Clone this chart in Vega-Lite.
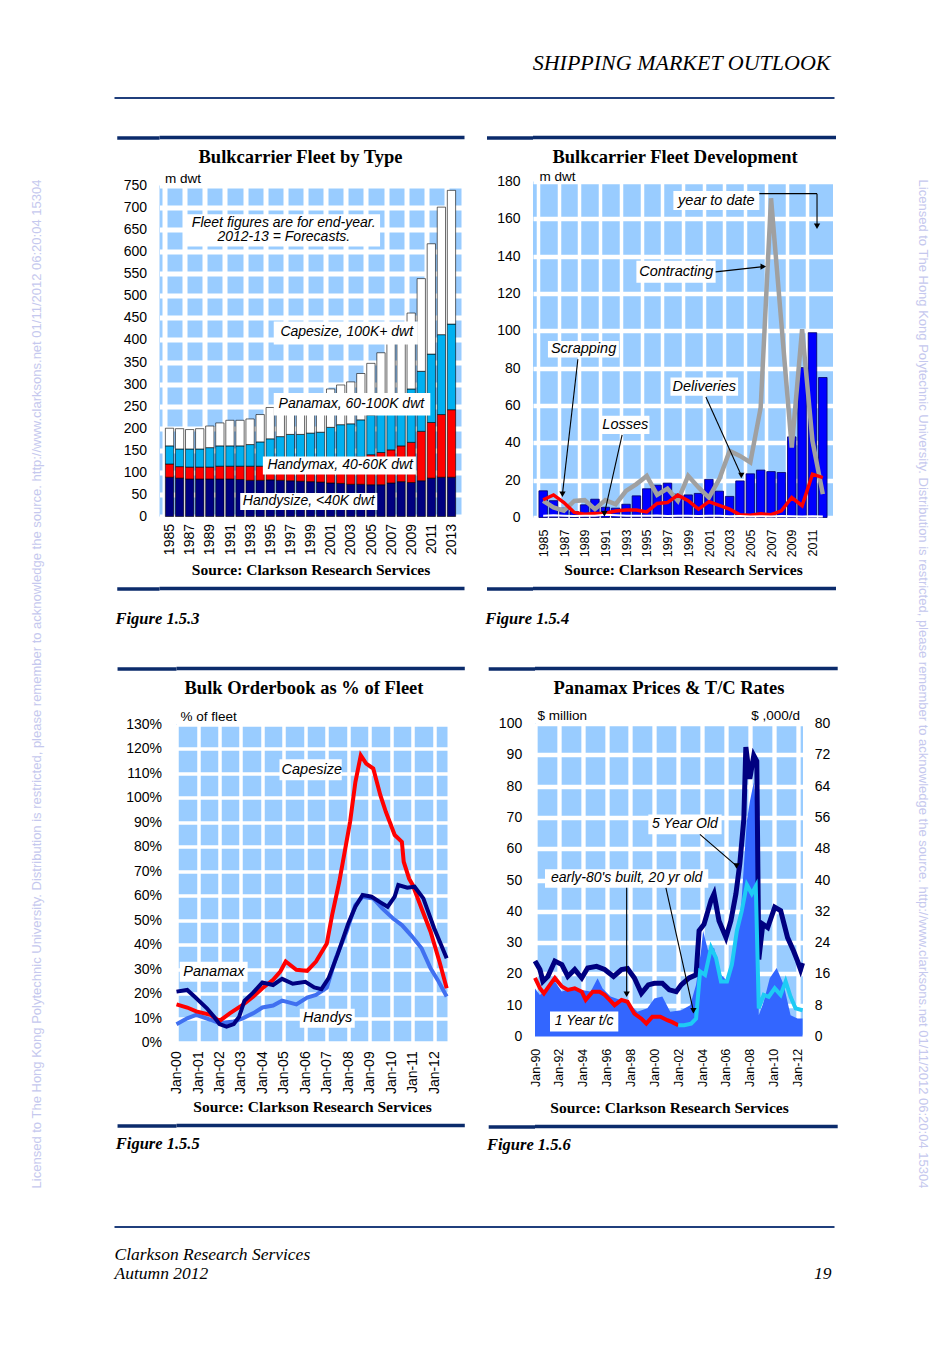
{
"$schema": "https://vega.github.io/schema/vega-lite/v6.json",
"background": "white",
"padding": {"left": 30, "top": 52, "right": 5, "bottom": 5},
"config": {
  "font": "Liberation Sans",
  "view": {"stroke": null},
  "axis": {"domain": false, "ticks": false, "labelColor": "black", "titleColor": "black", "labelFont": "Liberation Sans", "labelFontSize": 14, "gridColor": "white", "gridOpacity": 1},
  "title": {"color": "black"}
},
"datasets": {
  "watermark": [{"text": "Licensed to The Hong Kong Polytechnic University.  Distribution is restricted, please remember to acknowledge the source.  http://www.clarksons.net  01/11/2012 06:20:04 15304"}],
  "footer": [{"text": "Clarkson Research Services", "side": "left", "line": 1}, {"text": "Autumn 2012", "side": "left", "line": 2}, {"text": "19", "side": "right", "line": 2}],
  "classes": [{"type": "Handysize", "minDwt": 10}, {"type": "Handymax", "minDwt": 40}, {"type": "Panamax", "minDwt": 60}, {"type": "Capesize", "minDwt": 100}],
  "fleet": [
    {"year":1985,"Handysize":89,"Handymax":30,"Panamax":41,"Capesize":40},
    {"year":1986,"Handysize":87,"Handymax":26,"Panamax":40,"Capesize":46},
    {"year":1987,"Handysize":85,"Handymax":27,"Panamax":41,"Capesize":44},
    {"year":1988,"Handysize":85,"Handymax":27,"Panamax":41,"Capesize":46},
    {"year":1989,"Handysize":85,"Handymax":27,"Panamax":44,"Capesize":49},
    {"year":1990,"Handysize":85,"Handymax":29,"Panamax":46,"Capesize":52},
    {"year":1991,"Handysize":85,"Handymax":29,"Panamax":46,"Capesize":58},
    {"year":1992,"Handysize":84,"Handymax":30,"Panamax":46,"Capesize":58},
    {"year":1993,"Handysize":82,"Handymax":32,"Panamax":49,"Capesize":58},
    {"year":1994,"Handysize":82,"Handymax":32,"Panamax":55,"Capesize":62},
    {"year":1995,"Handysize":83,"Handymax":33,"Panamax":60,"Capesize":71},
    {"year":1996,"Handysize":82,"Handymax":36,"Panamax":63,"Capesize":71},
    {"year":1997,"Handysize":81,"Handymax":39,"Panamax":66,"Capesize":69},
    {"year":1998,"Handysize":80,"Handymax":42,"Panamax":64,"Capesize":74},
    {"year":1999,"Handysize":79,"Handymax":45,"Panamax":65,"Capesize":77},
    {"year":2000,"Handysize":78,"Handymax":47,"Panamax":66,"Capesize":84},
    {"year":2001,"Handysize":76,"Handymax":51,"Panamax":75,"Capesize":87},
    {"year":2002,"Handysize":75,"Handymax":54,"Panamax":79,"Capesize":90},
    {"year":2003,"Handysize":73,"Handymax":58,"Panamax":79,"Capesize":95},
    {"year":2004,"Handysize":73,"Handymax":62,"Panamax":84,"Capesize":105},
    {"year":2005,"Handysize":72,"Handymax":68,"Panamax":90,"Capesize":117},
    {"year":2006,"Handysize":72,"Handymax":73,"Panamax":97,"Capesize":129},
    {"year":2007,"Handysize":76,"Handymax":75,"Panamax":104,"Capesize":139},
    {"year":2008,"Handysize":79,"Handymax":81,"Panamax":110,"Capesize":148},
    {"year":2009,"Handysize":77,"Handymax":91,"Panamax":121,"Capesize":172},
    {"year":2010,"Handysize":81,"Handymax":112,"Panamax":136,"Capesize":210},
    {"year":2011,"Handysize":87,"Handymax":126,"Panamax":155,"Capesize":250},
    {"year":2012,"Handysize":89,"Handymax":142,"Panamax":181,"Capesize":289},
    {"year":2013,"Handysize":89,"Handymax":153,"Panamax":194,"Capesize":303}
  ],
  "fleetBoxes": [
    {"x1":1986.58,"x2":2005.91,"y1":612,"y2":685},
    {"x1":1995.35,"x2":2009.66,"y1":390,"y2":442},
    {"x1":1995.35,"x2":2010.9,"y1":229,"y2":280},
    {"x1":1994.27,"x2":2009.47,"y1":95,"y2":136},
    {"x1":1992.02,"x2":2005.63,"y1":15,"y2":53}
  ],
  "fleetNotes": [
    {"label":"Fleet figures are for end-year.","x":1996.35,"y":665},
    {"label":"2012-13 = Forecasts.","x":1996.35,"y":633},
    {"label":"Capesize, 100K+ dwt","x":2002.6,"y":419},
    {"label":"Panamax, 60-100K dwt","x":2003.06,"y":256},
    {"label":"Handymax, 40-60K dwt","x":2001.95,"y":116},
    {"label":"Handysize, <40K dwt","x":1998.83,"y":35}
  ],
  "fleetDev": [
    {"year":1985,"deliveries":14.3,"contracting":8.9,"scrapping":9.5,"losses":1.0},
    {"year":1986,"deliveries":9.0,"contracting":5.4,"scrapping":12.1,"losses":1.2},
    {"year":1987,"deliveries":5.0,"contracting":3.6,"scrapping":8.0,"losses":1.0},
    {"year":1988,"deliveries":3.2,"contracting":8.9,"scrapping":2.7,"losses":0.8},
    {"year":1989,"deliveries":6.8,"contracting":9.3,"scrapping":1.8,"losses":0.9},
    {"year":1990,"deliveries":9.8,"contracting":4.5,"scrapping":2.1,"losses":1.0},
    {"year":1991,"deliveries":5.5,"contracting":9.3,"scrapping":2.3,"losses":1.5},
    {"year":1992,"deliveries":5.0,"contracting":7.1,"scrapping":3.5,"losses":1.2},
    {"year":1993,"deliveries":7.1,"contracting":14.3,"scrapping":4.0,"losses":1.0},
    {"year":1994,"deliveries":11.6,"contracting":17.9,"scrapping":4.0,"losses":1.0},
    {"year":1995,"deliveries":15.4,"contracting":22.3,"scrapping":3.0,"losses":0.9},
    {"year":1996,"deliveries":17.3,"contracting":12.1,"scrapping":7.5,"losses":1.1},
    {"year":1997,"deliveries":18.4,"contracting":15.5,"scrapping":8.0,"losses":0.8},
    {"year":1998,"deliveries":12.5,"contracting":9.0,"scrapping":12.0,"losses":0.9},
    {"year":1999,"deliveries":12.1,"contracting":22.3,"scrapping":9.0,"losses":1.0},
    {"year":2000,"deliveries":12.9,"contracting":16.1,"scrapping":4.5,"losses":0.8},
    {"year":2001,"deliveries":20.4,"contracting":10.7,"scrapping":8.5,"losses":1.0},
    {"year":2002,"deliveries":14.1,"contracting":20.5,"scrapping":6.5,"losses":0.9},
    {"year":2003,"deliveries":11.3,"contracting":35.7,"scrapping":4.5,"losses":0.7},
    {"year":2004,"deliveries":19.6,"contracting":33.0,"scrapping":1.5,"losses":0.8},
    {"year":2005,"deliveries":23.4,"contracting":29.5,"scrapping":1.2,"losses":0.6},
    {"year":2006,"deliveries":25.4,"contracting":58.9,"scrapping":2.0,"losses":0.7},
    {"year":2007,"deliveries":24.6,"contracting":171,"scrapping":1.5,"losses":0.6},
    {"year":2008,"deliveries":24.1,"contracting":104,"scrapping":3.6,"losses":0.8},
    {"year":2009,"deliveries":43.2,"contracting":37.5,"scrapping":10.7,"losses":0.7},
    {"year":2010,"deliveries":80.3,"contracting":100.9,"scrapping":6.3,"losses":0.6},
    {"year":2011,"deliveries":99.0,"contracting":41.0,"scrapping":23.2,"losses":0.7},
    {"year":2012,"deliveries":75.0,"contracting":12.5,"scrapping":21.4,"losses":0.6}
  ],
  "devBoxes": [
    {"x1":1997.57,"x2":2005.87,"y1":164.7,"y2":174.9},
    {"x1":1994.0,"x2":2001.65,"y1":125.8,"y2":137.5},
    {"x1":1985.46,"x2":1992.31,"y1":85.7,"y2":94.6},
    {"x1":1990.6,"x2":1995.26,"y1":44.7,"y2":54.5},
    {"x1":1997.29,"x2":2003.82,"y1":65.2,"y2":75.0}
  ],
  "devNotes": [
    {"label":"year to date","x":2001.72,"y":169.8},
    {"label":"Contracting","x":1997.85,"y":131.7},
    {"label":"Scrapping","x":1988.9,"y":90.2},
    {"label":"Losses","x":1992.93,"y":49.6},
    {"label":"Deliveries","x":2000.55,"y":70.1}
  ],
  "devArrows": [
    {"x":2005.87,"y":173.5,"x2":2011.44,"y2":173.5},
    {"x":2011.44,"y":173.5,"x2":2011.44,"y2":156,"dir":"down"},
    {"x":2001.65,"y":131.6,"x2":2006.25,"y2":134.4,"dir":"right"},
    {"x":1988.35,"y":84.8,"x2":1986.86,"y2":12.5,"dir":"down"},
    {"x":1992.62,"y":44.3,"x2":1990.91,"y2":2.0,"dir":"down"},
    {"x":2000.71,"y":64.6,"x2":2004.13,"y2":22.5,"dir":"down"}
  ],
  "orderbook": [
    {"date":"2000/01/01","type":"Handys","pct":7.5},{"date":"2000/07/01","type":"Handys","pct":9.9},{"date":"2000/12/01","type":"Handys","pct":11.3},{"date":"2001/08/01","type":"Handys","pct":9.3},{"date":"2002/01/01","type":"Handys","pct":7.9},{"date":"2002/09/01","type":"Handys","pct":8.6},{"date":"2003/02/01","type":"Handys","pct":9.9},{"date":"2003/08/01","type":"Handys","pct":12.0},{"date":"2004/01/01","type":"Handys","pct":14.3},{"date":"2004/07/01","type":"Handys","pct":15.1},{"date":"2004/12/01","type":"Handys","pct":17.1},{"date":"2005/08/01","type":"Handys","pct":15.6},{"date":"2006/02/01","type":"Handys","pct":18.4},{"date":"2006/07/01","type":"Handys","pct":19.5},{"date":"2007/01/01","type":"Handys","pct":22.4},{"date":"2007/06/01","type":"Handys","pct":34.4},{"date":"2007/12/01","type":"Handys","pct":45.3},{"date":"2008/05/01","type":"Handys","pct":56.2},{"date":"2008/09/01","type":"Handys","pct":59.6},{"date":"2009/03/01","type":"Handys","pct":58.9},{"date":"2009/08/01","type":"Handys","pct":54.8},{"date":"2010/02/01","type":"Handys","pct":50.7},{"date":"2010/07/01","type":"Handys","pct":48.0},{"date":"2010/12/01","type":"Handys","pct":43.9},{"date":"2011/06/01","type":"Handys","pct":38.5},{"date":"2011/11/01","type":"Handys","pct":30.3},{"date":"2012/03/01","type":"Handys","pct":25.6},{"date":"2012/08/01","type":"Handys","pct":18.8},
    {"date":"2000/01/01","type":"Capesize","pct":15.6},{"date":"2000/07/01","type":"Capesize","pct":14.3},{"date":"2000/12/01","type":"Capesize","pct":12.7},{"date":"2001/08/01","type":"Capesize","pct":11.3},{"date":"2002/01/01","type":"Capesize","pct":8.8},{"date":"2002/07/01","type":"Capesize","pct":12.0},{"date":"2003/02/01","type":"Capesize","pct":15.4},{"date":"2003/08/01","type":"Capesize","pct":18.8},{"date":"2004/01/01","type":"Capesize","pct":22.2},{"date":"2004/07/01","type":"Capesize","pct":25.6},{"date":"2004/11/01","type":"Capesize","pct":29.0},{"date":"2005/02/01","type":"Capesize","pct":33.1},{"date":"2005/08/01","type":"Capesize","pct":29.7},{"date":"2006/02/01","type":"Capesize","pct":29.3},{"date":"2006/07/01","type":"Capesize","pct":33.1},{"date":"2007/01/01","type":"Capesize","pct":40.5},{"date":"2007/04/01","type":"Capesize","pct":52.1},{"date":"2007/08/01","type":"Capesize","pct":65.7},{"date":"2008/02/01","type":"Capesize","pct":90.2},{"date":"2008/05/01","type":"Capesize","pct":106.5},{"date":"2008/08/01","type":"Capesize","pct":117.4},{"date":"2008/11/01","type":"Capesize","pct":114.0},{"date":"2009/03/01","type":"Capesize","pct":112.0},{"date":"2009/07/01","type":"Capesize","pct":101.0},{"date":"2009/10/01","type":"Capesize","pct":94.3},{"date":"2010/03/01","type":"Capesize","pct":84.8},{"date":"2010/07/01","type":"Capesize","pct":82.0},{"date":"2010/08/01","type":"Capesize","pct":73.9},{"date":"2010/11/01","type":"Capesize","pct":67.0},{"date":"2011/01/01","type":"Capesize","pct":64.4},{"date":"2011/06/01","type":"Capesize","pct":54.8},{"date":"2011/11/01","type":"Capesize","pct":45.3},{"date":"2012/04/01","type":"Capesize","pct":33.0},{"date":"2012/08/01","type":"Capesize","pct":22.2},
    {"date":"2000/01/01","type":"Panamax","pct":20.8},{"date":"2000/07/01","type":"Panamax","pct":21.5},{"date":"2000/11/01","type":"Panamax","pct":18.8},{"date":"2001/06/01","type":"Panamax","pct":14.0},{"date":"2001/10/01","type":"Panamax","pct":10.5},{"date":"2002/01/01","type":"Panamax","pct":7.5},{"date":"2002/05/01","type":"Panamax","pct":6.5},{"date":"2002/09/01","type":"Panamax","pct":7.5},{"date":"2002/12/01","type":"Panamax","pct":10.5},{"date":"2003/03/01","type":"Panamax","pct":17.0},{"date":"2003/08/01","type":"Panamax","pct":20.5},{"date":"2004/01/01","type":"Panamax","pct":24.5},{"date":"2004/07/01","type":"Panamax","pct":23.5},{"date":"2004/12/01","type":"Panamax","pct":26.0},{"date":"2005/06/01","type":"Panamax","pct":24.0},{"date":"2006/01/01","type":"Panamax","pct":24.8},{"date":"2006/06/01","type":"Panamax","pct":22.5},{"date":"2006/10/01","type":"Panamax","pct":21.8},{"date":"2007/02/01","type":"Panamax","pct":26.3},{"date":"2007/07/01","type":"Panamax","pct":35.8},{"date":"2008/01/01","type":"Panamax","pct":48.7},{"date":"2008/05/01","type":"Panamax","pct":55.5},{"date":"2008/09/01","type":"Panamax","pct":60.3},{"date":"2009/02/01","type":"Panamax","pct":59.6},{"date":"2009/07/01","type":"Panamax","pct":57.3},{"date":"2009/11/01","type":"Panamax","pct":55.5},{"date":"2010/03/01","type":"Panamax","pct":59.6},{"date":"2010/05/01","type":"Panamax","pct":64.4},{"date":"2010/10/01","type":"Panamax","pct":63.3},{"date":"2011/02/01","type":"Panamax","pct":63.7},{"date":"2011/07/01","type":"Panamax","pct":58.9},{"date":"2012/01/01","type":"Panamax","pct":46.7},{"date":"2012/08/01","type":"Panamax","pct":34.4}
  ],
  "obBoxes": [
    {"t1":"2004/10/18","t2":"2007/09/12","y1":107.2,"y2":115.8},
    {"t1":"2000/02/25","t2":"2003/04/25","y1":24.8,"y2":33.0},
    {"t1":"2005/09/28","t2":"2008/04/20","y1":6.0,"y2":13.8}
  ],
  "obNotes": [
    {"label":"Capesize","t":"2006/04/20","y":111.6},
    {"label":"Panamax","t":"2001/09/28","y":28.9},
    {"label":"Handys","t":"2007/01/15","y":9.9}
  ],
  "tcRate": [
    {"date":"1990/01/01","rate":12.3},{"date":"1990/06/01","rate":10.6},{"date":"1990/10/01","rate":11.5},{"date":"1991/09/01","rate":14.0},{"date":"1992/04/01","rate":11.5},{"date":"1993/02/01","rate":12.3},{"date":"1993/12/01","rate":11.9},{"date":"1994/09/01","rate":11.5},{"date":"1995/04/01","rate":14.9},{"date":"1995/09/01","rate":12.3},{"date":"1996/05/01","rate":10.2},{"date":"1997/03/01","rate":9.3},{"date":"1997/10/01","rate":8.9},{"date":"1998/08/01","rate":6.3},{"date":"1999/06/01","rate":7.2},{"date":"2000/01/01","rate":9.7},{"date":"2000/09/01","rate":10.2},{"date":"2001/05/01","rate":6.3},{"date":"2002/04/01","rate":6.7},{"date":"2003/01/01","rate":8.0},{"date":"2003/07/01","rate":13.2},{"date":"2003/12/01","rate":22.0},{"date":"2004/02/01","rate":27.0},{"date":"2004/07/01","rate":22.0},{"date":"2005/01/01","rate":22.7},{"date":"2005/08/01","rate":15.8},{"date":"2006/03/01","rate":14.0},{"date":"2006/09/01","rate":22.7},{"date":"2007/04/01","rate":32.0},{"date":"2007/10/01","rate":55.0},{"date":"2008/01/01","rate":60.0},{"date":"2008/05/01","rate":65.0},{"date":"2008/08/01","rate":55.0},{"date":"2008/10/01","rate":5.4},{"date":"2009/03/01","rate":8.9},{"date":"2009/09/01","rate":14.9},{"date":"2010/04/01","rate":17.5},{"date":"2010/11/01","rate":13.2},{"date":"2011/06/01","rate":5.4},{"date":"2012/01/01","rate":4.6},{"date":"2012/06/01","rate":4.6}
  ],
  "prices": [
    {"date":"1990/01/01","series":"5 Year Old","price":24.1},{"date":"1990/06/01","series":"5 Year Old","price":21.4},{"date":"1990/09/01","series":"5 Year Old","price":17.6},{"date":"1991/02/01","series":"5 Year Old","price":19.2},{"date":"1991/09/01","series":"5 Year Old","price":24.1},{"date":"1992/04/01","series":"5 Year Old","price":23.0},{"date":"1992/10/01","series":"5 Year Old","price":19.2},{"date":"1993/05/01","series":"5 Year Old","price":21.4},{"date":"1993/12/01","series":"5 Year Old","price":18.7},{"date":"1994/06/01","series":"5 Year Old","price":21.9},{"date":"1995/03/01","series":"5 Year Old","price":22.4},{"date":"1995/11/01","series":"5 Year Old","price":21.4},{"date":"1996/08/01","series":"5 Year Old","price":19.2},{"date":"1997/04/01","series":"5 Year Old","price":21.4},{"date":"1997/10/01","series":"5 Year Old","price":21.7},{"date":"1998/05/01","series":"5 Year Old","price":18.7},{"date":"1998/12/01","series":"5 Year Old","price":13.8},{"date":"1999/07/01","series":"5 Year Old","price":16.5},{"date":"2000/01/01","series":"5 Year Old","price":17.0},{"date":"2000/09/01","series":"5 Year Old","price":17.0},{"date":"2001/04/01","series":"5 Year Old","price":14.9},{"date":"2001/11/01","series":"5 Year Old","price":14.3},{"date":"2002/04/01","series":"5 Year Old","price":16.5},{"date":"2002/12/01","series":"5 Year Old","price":18.7},{"date":"2003/07/01","series":"5 Year Old","price":19.7},{"date":"2003/10/01","series":"5 Year Old","price":33.8},{"date":"2004/03/01","series":"5 Year Old","price":35.9},{"date":"2004/10/01","series":"5 Year Old","price":43.5},{"date":"2005/01/01","series":"5 Year Old","price":45.6},{"date":"2005/06/01","series":"5 Year Old","price":37.0},{"date":"2006/01/01","series":"5 Year Old","price":31.6},{"date":"2006/06/01","series":"5 Year Old","price":37.0},{"date":"2006/11/01","series":"5 Year Old","price":45.6},{"date":"2007/03/01","series":"5 Year Old","price":55.3},{"date":"2007/07/01","series":"5 Year Old","price":69.4},{"date":"2007/09/01","series":"5 Year Old","price":92.5},{"date":"2008/01/01","series":"5 Year Old","price":82.3},{"date":"2008/05/01","series":"5 Year Old","price":89.8},{"date":"2008/08/01","series":"5 Year Old","price":88.0},{"date":"2008/10/01","series":"5 Year Old","price":24.6},{"date":"2009/02/01","series":"5 Year Old","price":35.9},{"date":"2009/07/01","series":"5 Year Old","price":34.8},{"date":"2010/02/01","series":"5 Year Old","price":41.3},{"date":"2010/08/01","series":"5 Year Old","price":40.2},{"date":"2011/03/01","series":"5 Year Old","price":31.6},{"date":"2011/09/01","series":"5 Year Old","price":27.3},{"date":"2012/01/01","series":"5 Year Old","price":24.1},{"date":"2012/04/01","series":"5 Year Old","price":21.4},{"date":"2012/06/01","series":"5 Year Old","price":23.5},
    {"date":"1990/01/01","series":"early-80's built","price":18.7},{"date":"1990/06/01","series":"early-80's built","price":15.4},{"date":"1990/10/01","series":"early-80's built","price":13.8},{"date":"1991/04/01","series":"early-80's built","price":16.5},{"date":"1991/09/01","series":"early-80's built","price":18.7},{"date":"1992/04/01","series":"early-80's built","price":16.0},{"date":"1992/10/01","series":"early-80's built","price":14.9},{"date":"1993/05/01","series":"early-80's built","price":15.4},{"date":"1993/12/01","series":"early-80's built","price":14.3},{"date":"1994/04/01","series":"early-80's built","price":11.7},{"date":"1994/11/01","series":"early-80's built","price":14.3},{"date":"1995/06/01","series":"early-80's built","price":14.3},{"date":"1995/11/01","series":"early-80's built","price":13.3},{"date":"1996/04/01","series":"early-80's built","price":11.7},{"date":"1996/09/01","series":"early-80's built","price":10.0},{"date":"1997/04/01","series":"early-80's built","price":11.7},{"date":"1997/10/01","series":"early-80's built","price":11.1},{"date":"1998/05/01","series":"early-80's built","price":7.3},{"date":"1998/12/01","series":"early-80's built","price":5.7},{"date":"1999/05/01","series":"early-80's built","price":4.1},{"date":"1999/11/01","series":"early-80's built","price":6.3},{"date":"2000/07/01","series":"early-80's built","price":6.3},{"date":"2001/02/01","series":"early-80's built","price":5.2},{"date":"2001/07/01","series":"early-80's built","price":4.6},{"date":"2002/01/01","series":"early-80's built","price":3.6},
    {"date":"2002/01/01","series":"20 yr old","price":3.6},{"date":"2002/07/01","series":"20 yr old","price":3.6},{"date":"2003/02/01","series":"20 yr old","price":4.1},{"date":"2003/07/01","series":"20 yr old","price":5.7},{"date":"2003/11/01","series":"20 yr old","price":20.8},{"date":"2004/04/01","series":"20 yr old","price":19.7},{"date":"2004/10/01","series":"20 yr old","price":28.4},{"date":"2005/03/01","series":"20 yr old","price":25.1},{"date":"2005/08/01","series":"20 yr old","price":17.6},{"date":"2006/02/01","series":"20 yr old","price":17.6},{"date":"2006/07/01","series":"20 yr old","price":23.0},{"date":"2006/12/01","series":"20 yr old","price":33.8},{"date":"2007/05/01","series":"20 yr old","price":40.2},{"date":"2007/10/01","series":"20 yr old","price":48.5},{"date":"2008/03/01","series":"20 yr old","price":45.6},{"date":"2008/07/01","series":"20 yr old","price":48.0},{"date":"2008/10/01","series":"20 yr old","price":9.0},{"date":"2009/03/01","series":"20 yr old","price":13.3},{"date":"2009/08/01","series":"20 yr old","price":12.7},{"date":"2010/02/01","series":"20 yr old","price":15.4},{"date":"2010/08/01","series":"20 yr old","price":13.3},{"date":"2011/01/01","series":"20 yr old","price":17.6},{"date":"2011/06/01","series":"20 yr old","price":12.7},{"date":"2011/11/01","series":"20 yr old","price":9.0},{"date":"2012/06/01","series":"20 yr old","price":8.4}
  ],
  "pxBoxes": [
    {"t1":"1999/07/01","t2":"2005/08/21","y1":64.6,"y2":70.9},
    {"t1":"1990/11/03","t2":"2004/07/08","y1":47.5,"y2":53.4},
    {"t1":"1991/04/05","t2":"1996/12/24","y1":1.6,"y2":8.0}
  ],
  "pxNotes": [
    {"label":"5 Year Old","t":"2002/07/23","y":67.8},
    {"label":"early-80's built, 20 yr old","t":"1997/09/06","y":50.5},
    {"label":"1 Year t/c","t":"1994/02/14","y":4.8}
  ],
  "pxArrows": [
    {"t":"2003/10/26","y":64.6,"t2":"2006/11/20","y2":54.5,"dir":"down"},
    {"t":"1997/09/06","y":47.5,"t2":"1997/09/06","y2":13.5,"dir":"down"},
    {"t":"2000/12/20","y":47.5,"t2":"2003/04/10","y2":8.2,"dir":"down"}
  ]
},
"spacing": 68.5,
"hconcat": [
  {"width": 10, "height": 1172, "data": {"name": "watermark"},
   "mark": {"type": "text", "angle": 270, "fontSize": 13, "color": "#C5C8EE", "align": "center", "baseline": "middle"},
   "encoding": {"text": {"field": "text"}}},
  {"spacing": 76,
   "hconcat": [
    {"spacing": 72,
     "vconcat": [
      {"spacing": 32,
       "vconcat": [
        {"width": 720, "height": 1, "data": {"values": [{}]},
         "title": {"text": "SHIPPING MARKET OUTLOOK", "anchor": "end", "frame": "bounds", "font": "Liberation Serif", "fontSize": 22, "fontStyle": "italic", "fontWeight": "normal", "baseline": "alphabetic", "offset": 5, "dx": -5},
         "mark": {"type": "rule", "color": "#203F7C", "strokeWidth": 2},
         "encoding": {"y": {"datum": 0, "type": "quantitative", "axis": null}}},
        {"spacing": 34,
         "vconcat": [
          {"spacing": 0,
           "hconcat": [
            {"width": 1, "height": 1, "data": {"values": [{}]}, "mark": {"type": "text", "text": ""}, "encoding": {}},
            {"spacing": 18.5,
             "hconcat": [
              {"spacing": 7.5,
               "vconcat": [
                {"width": 305, "height": 1, "data": {"values": [{}]}, "mark": {"type": "rule", "color": "#0B2B6B", "strokeWidth": 3.5},
                 "encoding": {"y": {"datum": 0, "type": "quantitative", "scale": {"domain": [-1, 1]}, "axis": {"values": [0], "ticks": true, "tickSize": 42.25, "tickWidth": 3.5, "tickColor": "#0B2B6B", "labels": false, "grid": false, "domain": false, "title": null, "translate": 0}}}},
                {"width": 302, "height": 331,
                 "title": {"text": "Bulkcarrier Fleet by Type", "font": "Liberation Serif", "fontSize": 18.5, "fontWeight": "bold", "baseline": "alphabetic", "offset": -10.3, "dx": -10},
                 "view": {"fill": "#99CCFF"},
                 "layer": [
                  {"data": {"name": "fleet"},
                   "transform": [{"fold": ["Handysize", "Handymax", "Panamax", "Capesize"], "as": ["type", "dwt"]},
                                 {"lookup": "type", "from": {"data": {"name": "classes"}, "key": "type", "fields": ["minDwt"]}}],
                   "mark": {"type": "bar", "width": 8.3, "stroke": "black", "strokeWidth": 0.6},
                   "encoding": {
                    "x": {"field": "year", "type": "quantitative", "scale": {"domain": [1984.5, 2013.5], "nice": false, "zero": false},
                          "axis": {"values": [1984.5,1986.5,1988.5,1990.5,1992.5,1994.5,1996.5,1998.5,2000.5,2002.5,2004.5,2006.5,2008.5,2010.5,2012.5], "tickCount": 100, "labelExpr": "datum.value + 0.5", "labelAngle": -90, "labelOffset": 5.2, "labelPadding": 7, "labelFontSize": 14, "labelOverlap": false, "labelFlush": false, "grid": true, "gridWidth": 5,
                                   "title": "Source: Clarkson Research Services", "titleFont": "Liberation Serif", "titleFontSize": 15.5, "titleFontWeight": "bold", "titlePadding": 8}},
                    "y": {"field": "dwt", "type": "quantitative", "stack": "zero", "scale": {"domain": [0, 750], "nice": false},
                          "axis": {"values": [0,50,100,150,200,250,300,350,400,450,500,550,600,650,700,750], "tickCount": 100, "labelOverlap": false, "grid": true, "gridWidth": 5, "labelPadding": 13, "minExtent": 41,
                                   "title": "m dwt", "titleAngle": 0, "titleAlign": "left", "titleBaseline": "alphabetic", "titleX": 5, "titleY": -3, "titleFont": "Liberation Sans", "titleFontSize": 13.5, "titleFontWeight": "normal"}},
                    "color": {"field": "type", "type": "nominal", "scale": {"domain": ["Handysize", "Handymax", "Panamax", "Capesize"], "range": ["#000080", "#FF0000", "#00B0F0", "#FFFFFF"]}, "legend": null},
                    "order": {"field": "minDwt", "type": "quantitative", "sort": "ascending"}
                   }},
                  {"data": {"name": "fleetBoxes"}, "mark": {"type": "rect", "fill": "white"},
                   "encoding": {"x": {"field": "x1", "type": "quantitative"}, "x2": {"field": "x2"}, "y": {"field": "y1", "type": "quantitative"}, "y2": {"field": "y2"}}},
                  {"data": {"name": "fleetNotes"}, "mark": {"type": "text", "fontSize": 14, "fontStyle": "italic", "align": "center", "baseline": "middle", "color": "black"},
                   "encoding": {"x": {"field": "x", "type": "quantitative"}, "y": {"field": "y", "type": "quantitative"}, "text": {"field": "label"}}}
                 ]},
                {"width": 305, "height": 1, "data": {"values": [{}]},
                 "title": {"text": "Figure 1.5.3", "orient": "bottom", "anchor": "start", "frame": "bounds", "font": "Liberation Serif", "fontSize": 16.5, "fontStyle": "italic", "fontWeight": "bold", "baseline": "alphabetic", "offset": 33},
                 "mark": {"type": "rule", "color": "#0B2B6B", "strokeWidth": 3.5},
                 "encoding": {"y": {"datum": 0, "type": "quantitative", "scale": {"domain": [-1, 1]}, "axis": {"values": [0], "ticks": true, "tickSize": 42.25, "tickWidth": 3.5, "tickColor": "#0B2B6B", "labels": false, "grid": false, "domain": false, "title": null, "translate": 0}}}}
               ]},
              {"spacing": 7.5,
               "vconcat": [
                {"width": 303, "height": 1, "data": {"values": [{}]}, "mark": {"type": "rule", "color": "#0B2B6B", "strokeWidth": 3.5},
                 "encoding": {"y": {"datum": 0, "type": "quantitative", "scale": {"domain": [-1, 1]}, "axis": {"values": [0], "ticks": true, "tickSize": 46, "tickWidth": 3.5, "tickColor": "#0B2B6B", "labels": false, "grid": false, "domain": false, "title": null, "translate": 0}}}},
                {"width": 300, "height": 336,
                 "title": {"text": "Bulkcarrier Fleet Development", "font": "Liberation Serif", "fontSize": 18.5, "fontWeight": "bold", "baseline": "alphabetic", "offset": -11.8, "dx": -8},
                 "view": {"fill": "#99CCFF"},
                 "layer": [
                  {"data": {"name": "fleetDev"}, "mark": {"type": "bar", "width": 8.5, "fill": "#0000FF", "stroke": "#000066", "strokeWidth": 0.8},
                   "encoding": {
                    "x": {"field": "year", "type": "quantitative", "scale": {"domain": [1984.5, 2012.5], "nice": false, "zero": false},
                          "axis": {"values": [1984.5,1986.5,1988.5,1990.5,1992.5,1994.5,1996.5,1998.5,2000.5,2002.5,2004.5,2006.5,2008.5,2010.5], "tickCount": 100, "labelExpr": "datum.value + 0.5", "labelAngle": -90, "labelOffset": 5.36, "labelPadding": 11.5, "labelFontSize": 12.5, "labelOverlap": false, "labelFlush": false, "grid": true, "gridWidth": 3.5,
                                   "title": "Source: Clarkson Research Services", "titleFont": "Liberation Serif", "titleFontSize": 15.5, "titleFontWeight": "bold", "titlePadding": 5.5}},
                    "y": {"field": "deliveries", "type": "quantitative", "scale": {"domain": [0, 180], "nice": false},
                          "axis": {"values": [0,20,40,60,80,100,120,140,160,180], "tickCount": 100, "labelOverlap": false, "grid": true, "gridWidth": 4.5, "labelPadding": 13, "minExtent": 44,
                                   "title": "m dwt", "titleAngle": 0, "titleAlign": "left", "titleBaseline": "alphabetic", "titleX": 6, "titleY": -1, "titleFont": "Liberation Sans", "titleFontSize": 13.5, "titleFontWeight": "normal"}}
                   }},
                  {"data": {"name": "fleetDev"}, "mark": {"type": "line", "color": "#A0A0A0", "strokeWidth": 4.5},
                   "encoding": {"x": {"field": "year", "type": "quantitative"}, "y": {"field": "contracting", "type": "quantitative"}}},
                  {"data": {"name": "fleetDev"}, "mark": {"type": "line", "color": "#FF0000", "strokeWidth": 3.5},
                   "encoding": {"x": {"field": "year", "type": "quantitative"}, "y": {"field": "scrapping", "type": "quantitative"}}},
                  {"data": {"name": "fleetDev"}, "mark": {"type": "line", "color": "#FFFFFF", "strokeWidth": 2},
                   "encoding": {"x": {"field": "year", "type": "quantitative"}, "y": {"field": "losses", "type": "quantitative"}}},
                  {"data": {"name": "devBoxes"}, "mark": {"type": "rect", "fill": "white"},
                   "encoding": {"x": {"field": "x1", "type": "quantitative"}, "x2": {"field": "x2"}, "y": {"field": "y1", "type": "quantitative"}, "y2": {"field": "y2"}}},
                  {"data": {"name": "devArrows"}, "mark": {"type": "rule", "color": "black", "strokeWidth": 1.1},
                   "encoding": {"x": {"field": "x", "type": "quantitative"}, "x2": {"field": "x2"}, "y": {"field": "y", "type": "quantitative"}, "y2": {"field": "y2"}}},
                  {"data": {"name": "devArrows"}, "transform": [{"filter": "isValid(datum.dir)"}],
                   "mark": {"type": "point", "filled": true, "color": "black", "size": 40, "opacity": 1},
                   "encoding": {"x": {"field": "x2", "type": "quantitative"}, "y": {"field": "y2", "type": "quantitative"},
                                "shape": {"field": "dir", "type": "nominal", "scale": {"domain": ["down", "right"], "range": ["triangle-down", "triangle-right"]}, "legend": null}}},
                  {"data": {"name": "devNotes"}, "mark": {"type": "text", "fontSize": 14.5, "fontStyle": "italic", "align": "center", "baseline": "middle", "color": "black"},
                   "encoding": {"x": {"field": "x", "type": "quantitative"}, "y": {"field": "y", "type": "quantitative"}, "text": {"field": "label"}}}
                 ]},
                {"width": 303, "height": 1, "data": {"values": [{}]},
                 "title": {"text": "Figure 1.5.4", "orient": "bottom", "anchor": "start", "frame": "bounds", "font": "Liberation Serif", "fontSize": 16.5, "fontStyle": "italic", "fontWeight": "bold", "baseline": "alphabetic", "offset": 33},
                 "mark": {"type": "rule", "color": "#0B2B6B", "strokeWidth": 3.5},
                 "encoding": {"y": {"datum": 0, "type": "quantitative", "scale": {"domain": [-1, 1]}, "axis": {"values": [0], "ticks": true, "tickSize": 46, "tickWidth": 3.5, "tickColor": "#0B2B6B", "labels": false, "grid": false, "domain": false, "title": null, "translate": 0}}}}
               ]}
             ]}
           ]},
          {"spacing": 0,
           "hconcat": [
            {"width": 1, "height": 1, "data": {"values": [{}]}, "mark": {"type": "text", "text": ""}, "encoding": {}},
            {"spacing": 18.5,
             "hconcat": [
              {"spacing": 7.5,
               "vconcat": [
                {"width": 288.3, "height": 1, "data": {"values": [{}]}, "mark": {"type": "rule", "color": "#0B2B6B", "strokeWidth": 3.5},
                 "encoding": {"y": {"datum": 0, "type": "quantitative", "scale": {"domain": [-1, 1]}, "axis": {"values": [0], "ticks": true, "tickSize": 58.95, "tickWidth": 3.5, "tickColor": "#0B2B6B", "labels": false, "grid": false, "domain": false, "title": null, "translate": 0}}}},
                {"width": 271, "height": 318,
                 "title": {"text": "Bulk Orderbook as % of Fleet", "font": "Liberation Serif", "fontSize": 18.5, "fontWeight": "bold", "baseline": "alphabetic", "offset": -2.2, "dx": -8},
                 "view": {"fill": "#99CCFF"},
                 "layer": [
                  {"data": {"name": "orderbook"}, "transform": [{"filter": "datum.type === 'Handys'"}],
                   "mark": {"type": "line", "color": "#4070F0", "strokeWidth": 4},
                   "encoding": {
                    "x": {"field": "date", "type": "temporal", "scale": {"domain": [{"year": 2000, "month": 1, "date": 1}, {"year": 2012, "month": 8, "date": 15}], "nice": false},
                          "axis": {"tickCount": {"interval": "year", "step": 1}, "format": "%b-%y", "labelAngle": -90, "labelPadding": 8.3, "labelFontSize": 14, "labelOverlap": false, "labelFlush": false, "grid": true, "gridWidth": 3.5,
                                   "title": "Source: Clarkson Research Services", "titleFont": "Liberation Serif", "titleFontSize": 15.5, "titleFontWeight": "bold", "titlePadding": 6}},
                    "y": {"field": "pct", "type": "quantitative", "scale": {"domain": [0, 130], "nice": false},
                          "axis": {"values": [0,10,20,30,40,50,60,70,80,90,100,110,120,130], "tickCount": 100, "labelOverlap": false, "labelExpr": "datum.value + '%'", "grid": true, "gridWidth": 3.5, "labelPadding": 15,
                                   "title": "% of fleet", "titleAngle": 0, "titleAlign": "left", "titleBaseline": "alphabetic", "titleX": 3.5, "titleY": -3.6, "titleFont": "Liberation Sans", "titleFontSize": 13.5, "titleFontWeight": "normal"}}
                   }},
                  {"data": {"name": "orderbook"}, "transform": [{"filter": "datum.type === 'Capesize'"}],
                   "mark": {"type": "line", "color": "#FF0000", "strokeWidth": 4},
                   "encoding": {"x": {"field": "date", "type": "temporal"}, "y": {"field": "pct", "type": "quantitative"}}},
                  {"data": {"name": "orderbook"}, "transform": [{"filter": "datum.type === 'Panamax'"}],
                   "mark": {"type": "line", "color": "#000080", "strokeWidth": 4},
                   "encoding": {"x": {"field": "date", "type": "temporal"}, "y": {"field": "pct", "type": "quantitative"}}},
                  {"data": {"name": "obBoxes"}, "mark": {"type": "rect", "fill": "white"},
                   "encoding": {"x": {"field": "t1", "type": "temporal"}, "x2": {"field": "t2"}, "y": {"field": "y1", "type": "quantitative"}, "y2": {"field": "y2"}}},
                  {"data": {"name": "obNotes"}, "mark": {"type": "text", "fontSize": 14.5, "fontStyle": "italic", "align": "center", "baseline": "middle", "color": "black"},
                   "encoding": {"x": {"field": "t", "type": "temporal"}, "y": {"field": "y", "type": "quantitative"}, "text": {"field": "label"}}}
                 ]},
                {"width": 288.3, "height": 1, "data": {"values": [{}]},
                 "title": {"text": "Figure 1.5.5", "orient": "bottom", "anchor": "start", "frame": "bounds", "font": "Liberation Serif", "fontSize": 16.5, "fontStyle": "italic", "fontWeight": "bold", "baseline": "alphabetic", "offset": 21},
                 "mark": {"type": "rule", "color": "#0B2B6B", "strokeWidth": 3.5},
                 "encoding": {"y": {"datum": 0, "type": "quantitative", "scale": {"domain": [-1, 1]}, "axis": {"values": [0], "ticks": true, "tickSize": 58.95, "tickWidth": 3.5, "tickColor": "#0B2B6B", "labels": false, "grid": false, "domain": false, "title": null, "translate": 0}}}}
               ]},
              {"spacing": 7.5,
               "vconcat": [
                {"width": 302.7, "height": 1, "data": {"values": [{}]}, "mark": {"type": "rule", "color": "#0B2B6B", "strokeWidth": 3.5},
                 "encoding": {"y": {"datum": 0, "type": "quantitative", "scale": {"domain": [-1, 1]}, "axis": {"values": [0], "ticks": true, "tickSize": 46.3, "tickWidth": 3.5, "tickColor": "#0B2B6B", "labels": false, "grid": false, "domain": false, "title": null, "translate": 0}}}},
                {"width": 268, "height": 313,
                 "title": {"text": "Panamax Prices & T/C Rates", "font": "Liberation Serif", "fontSize": 18.5, "fontWeight": "bold", "baseline": "alphabetic", "offset": -3.7},
                 "view": {"fill": "#99CCFF"},
                 "resolve": {"scale": {"y": "independent"}},
                 "layer": [
                  {"data": {"name": "tcRate"}, "mark": {"type": "area", "color": "#3366FF", "opacity": 1},
                   "encoding": {
                    "x": {"field": "date", "type": "temporal", "scale": {"domain": [{"year": 1990, "month": 1, "date": 1}, {"year": 2012, "month": 6, "date": 15}], "nice": false},
                          "axis": {"tickCount": {"interval": "year", "step": 2}, "format": "%b-%y", "labelAngle": -90, "labelPadding": 11.7, "labelFontSize": 12.5, "labelOverlap": false, "labelFlush": false, "grid": true, "gridWidth": 4.3,
                                   "title": "Source: Clarkson Research Services", "titleFont": "Liberation Serif", "titleFontSize": 15.5, "titleFontWeight": "bold", "titlePadding": 14}},
                    "y": {"field": "rate", "type": "quantitative", "scale": {"domain": [0, 80], "nice": false},
                          "axis": {"orient": "right", "values": [0,8,16,24,32,40,48,56,64,72,80], "tickCount": 100, "labelOverlap": false, "grid": false, "labelPadding": 11.3,
                                   "title": "$ ,000/d", "titleAngle": 0, "titleAlign": "right", "titleBaseline": "alphabetic", "titleX": -3.5, "titleY": -3.6, "titleFont": "Liberation Sans", "titleFontSize": 13.5, "titleFontWeight": "normal"}}
                   }},
                  {"layer": [
                    {"data": {"name": "prices"}, "transform": [{"filter": "datum.series === '5 Year Old'"}],
                     "mark": {"type": "line", "color": "#000080", "strokeWidth": 5},
                     "encoding": {
                      "x": {"field": "date", "type": "temporal"},
                      "y": {"field": "price", "type": "quantitative", "scale": {"domain": [0, 100], "nice": false},
                            "axis": {"orient": "left", "values": [0,10,20,30,40,50,60,70,80,90,100], "tickCount": 100, "labelOverlap": false, "grid": true, "gridWidth": 4.3, "labelPadding": 13.3,
                                     "title": "$ million", "titleAngle": 0, "titleAlign": "left", "titleBaseline": "alphabetic", "titleX": 2, "titleY": -3.6, "titleFont": "Liberation Sans", "titleFontSize": 13.5, "titleFontWeight": "normal"}}
                     }},
                    {"data": {"name": "prices"}, "transform": [{"filter": "datum.series === \"early-80's built\""}],
                     "mark": {"type": "line", "color": "#FF0000", "strokeWidth": 4},
                     "encoding": {"x": {"field": "date", "type": "temporal"}, "y": {"field": "price", "type": "quantitative"}}},
                    {"data": {"name": "prices"}, "transform": [{"filter": "datum.series === '20 yr old'"}],
                     "mark": {"type": "line", "color": "#1ECBF5", "strokeWidth": 4},
                     "encoding": {"x": {"field": "date", "type": "temporal"}, "y": {"field": "price", "type": "quantitative"}}},
                    {"data": {"name": "pxBoxes"}, "mark": {"type": "rect", "fill": "white"},
                     "encoding": {"x": {"field": "t1", "type": "temporal"}, "x2": {"field": "t2"}, "y": {"field": "y1", "type": "quantitative"}, "y2": {"field": "y2"}}},
                    {"data": {"name": "pxArrows"}, "mark": {"type": "rule", "color": "black", "strokeWidth": 1.1},
                     "encoding": {"x": {"field": "t", "type": "temporal"}, "x2": {"field": "t2"}, "y": {"field": "y", "type": "quantitative"}, "y2": {"field": "y2"}}},
                    {"data": {"name": "pxArrows"}, "transform": [{"filter": "isValid(datum.dir)"}],
                     "mark": {"type": "point", "filled": true, "color": "black", "size": 40, "opacity": 1},
                     "encoding": {"x": {"field": "t2", "type": "temporal"}, "y": {"field": "y2", "type": "quantitative"},
                                  "shape": {"field": "dir", "type": "nominal", "scale": {"domain": ["down", "right"], "range": ["triangle-down", "triangle-right"]}, "legend": null}}},
                    {"data": {"name": "pxNotes"}, "mark": {"type": "text", "fontSize": 14, "fontStyle": "italic", "align": "center", "baseline": "middle", "color": "black"},
                     "encoding": {"x": {"field": "t", "type": "temporal"}, "y": {"field": "y", "type": "quantitative"}, "text": {"field": "label"}}}
                  ]}
                 ]},
                {"width": 302.7, "height": 1, "data": {"values": [{}]},
                 "title": {"text": "Figure 1.5.6", "orient": "bottom", "anchor": "start", "frame": "bounds", "font": "Liberation Serif", "fontSize": 16.5, "fontStyle": "italic", "fontWeight": "bold", "baseline": "alphabetic", "offset": 21},
                 "mark": {"type": "rule", "color": "#0B2B6B", "strokeWidth": 3.5},
                 "encoding": {"y": {"datum": 0, "type": "quantitative", "scale": {"domain": [-1, 1]}, "axis": {"values": [0], "ticks": true, "tickSize": 46.3, "tickWidth": 3.5, "tickColor": "#0B2B6B", "labels": false, "grid": false, "domain": false, "title": null, "translate": 0}}}}
               ]}
             ]}
           ]}
         ]}
       ]},
      {"spacing": 18,
       "vconcat": [
        {"width": 720, "height": 1, "data": {"values": [{}]}, "mark": {"type": "rule", "color": "#203F7C", "strokeWidth": 2}, "encoding": {"y": {"datum": 0, "type": "quantitative", "axis": null}}},
        {"width": 717, "height": 19, "data": {"name": "footer"},
         "encoding": {
          "x": {"field": "side", "type": "nominal", "scale": {"type": "point", "domain": ["left", "right"], "padding": 0}, "axis": null},
          "y": {"field": "line", "type": "ordinal", "scale": {"type": "point", "domain": [1, 2], "padding": 0}, "axis": null},
          "text": {"field": "text"}
         },
         "layer": [
          {"transform": [{"filter": "datum.side === 'left'"}], "mark": {"type": "text", "align": "left", "baseline": "middle", "font": "Liberation Serif", "fontStyle": "italic", "fontSize": 17.5, "color": "black"}},
          {"transform": [{"filter": "datum.side === 'right'"}], "mark": {"type": "text", "align": "right", "baseline": "middle", "font": "Liberation Serif", "fontStyle": "italic", "fontSize": 17.5, "color": "black"}}
         ]}
       ]}
     ]},
    {"width": 10, "height": 1172, "data": {"name": "watermark"},
     "mark": {"type": "text", "angle": 90, "fontSize": 13, "color": "#C5C8EE", "align": "center", "baseline": "middle"},
     "encoding": {"text": {"field": "text"}}}
   ]}
]
}
